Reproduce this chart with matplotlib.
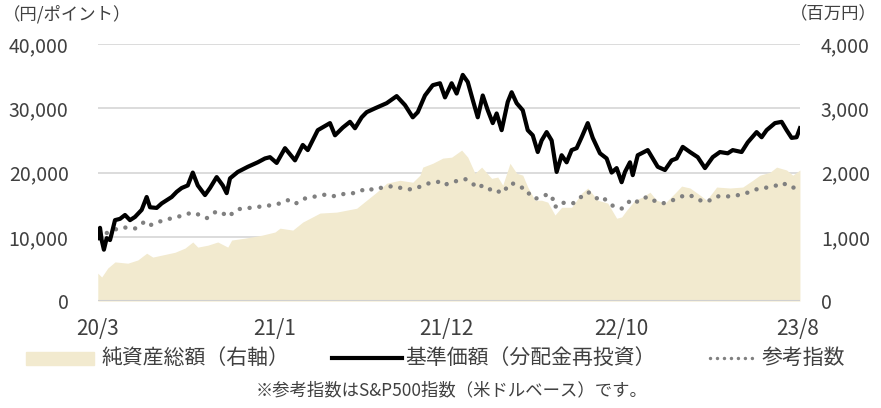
import matplotlib
matplotlib.use("Agg")
import matplotlib.pyplot as plt
import matplotlib.ticker as mticker
import pandas as pd
from matplotlib.lines import Line2D
from matplotlib.patches import Rectangle

plt.rcParams['font.family'] = ['Noto Sans CJK JP', 'DejaVu Sans']

START = pd.Timestamp('2020-03-16')

# 基準価額（分配金再投資）: days since start, value (円)
nav_days = [0, 4, 7, 11, 16, 22, 25, 31, 40, 49, 58, 67, 79, 88, 94, 106, 115, 124, 133, 142,
            151, 162, 171, 180, 193, 202, 214, 225, 232, 238, 252, 270, 288, 301, 310, 322, 337,
            355, 369, 378, 396, 418, 427, 441, 454, 463, 475, 484, 499, 520, 538, 553, 567, 576,
            589, 603, 616, 625, 637, 646, 657, 666, 675, 684, 693, 702, 711, 718, 727, 738, 745,
            754, 765, 774, 783, 792, 799, 808, 817, 826, 835, 844, 853, 862, 871, 882, 891, 904,
            916, 925, 934, 943, 949, 958, 963, 972, 990, 999, 1008, 1021, 1033, 1042, 1053, 1066,
            1080, 1093, 1107, 1120, 1134, 1143, 1159, 1170, 1186, 1195, 1204, 1219, 1231, 1240,
            1249, 1258, 1264]
nav = [9800, 11400, 9500, 8000, 9800, 9500, 10500, 12600, 12800, 13400, 12600, 13100, 14200,
       16200, 14600, 14500, 15200, 15700, 16200, 17000, 17600, 18000, 20000, 18000, 16500, 17600,
       19300, 18000, 16800, 19100, 20100, 20900, 21600, 22200, 22400, 21500, 23800, 21900, 24300,
       23500, 26600, 27700, 25800, 27000, 27900, 26900, 28600, 29400, 30000, 30800, 31900, 30500,
       28600, 29400, 32000, 33600, 33900, 31700, 33900, 32300, 35200, 34100, 31300, 28600, 32000,
       29700, 27700, 29200, 26600, 31000, 32500, 30800, 29700, 26600, 25800, 23200, 25000, 26300,
       25000, 20100, 22700, 21600, 23500, 23800, 25500, 27700, 25400, 23000, 22200, 20000, 20700,
       18500, 20100, 21600, 19600, 22700, 23500, 22200, 20900, 20400, 21900, 22200, 24000, 23200,
       22400, 20700, 22400, 23200, 23000, 23500, 23200, 24700, 26300, 25500, 26600, 27700, 27900,
       26600, 25400, 25500, 26900]

# 参考指数 (ポイント)
ref_days = [0, 27, 43, 67, 85, 94, 108, 133, 157, 169, 184, 196, 214, 225, 234, 252, 283, 310,
            328, 342, 355, 369, 387, 403, 414, 427, 448, 463, 486, 495, 508, 531, 556, 567, 583,
            598, 610, 621, 628, 637, 661, 673, 682, 693, 702, 711, 720, 729, 738, 745, 760, 769,
            778, 787, 796, 805, 817, 823, 832, 844, 855, 864, 871, 882, 891, 900, 909, 918, 931,
            943, 949, 958, 967, 976, 990, 999, 1017, 1035, 1051, 1066, 1078, 1093, 1102, 1114,
            1138, 1161, 1186, 1206, 1222, 1233, 1249, 1264]
ref = [10000, 11000, 11500, 11300, 12400, 11800, 12300, 12900, 13400, 13800, 13400, 12900, 14000,
       13700, 13100, 14300, 14600, 14900, 15200, 15700, 15100, 15900, 16200, 16500, 16600, 16300,
       16800, 16800, 17600, 17300, 17600, 17900, 17400, 17400, 17900, 18400, 18500, 18700, 18200,
       18500, 19000, 18500, 17600, 18000, 17700, 17000, 17100, 16800, 17900, 18400, 17700, 17600,
       16500, 15900, 16200, 16500, 16500, 14600, 15400, 15200, 15200, 15700, 16300, 17000, 16500,
       15900, 16200, 15400, 14600, 14400, 14800, 15600, 15200, 15900, 16200, 15700, 15200, 15700,
       16300, 16500, 15900, 15400, 15700, 16300, 16300, 16600, 17400, 17700, 18000, 18400, 17600,
       17900]

# 純資産総額 (百万円)
aum_days = [0, 7, 18, 31, 54, 72, 88, 99, 115, 139, 157, 171, 180, 198, 216, 234, 241, 265, 295,
            319, 328, 351, 369, 400, 430, 466, 484, 502, 520, 544, 567, 580, 585, 603, 621, 637,
            655, 666, 679, 691, 709, 720, 729, 742, 754, 765, 774, 787, 799, 810, 823, 835, 853,
            871, 882, 900, 918, 934, 943, 952, 967, 981, 994, 1006, 1021, 1039, 1051, 1066, 1084,
            1096, 1114, 1138, 1161, 1179, 1192, 1210, 1222, 1240, 1251, 1264]
aum = [435, 375, 515, 610, 590, 640, 745, 685, 715, 760, 825, 920, 840, 870, 920, 840, 950, 980,
       1025, 1075, 1135, 1105, 1230, 1370, 1385, 1445, 1570, 1695, 1835, 1880, 1850, 1960, 2085,
       2145, 2225, 2240, 2350, 2240, 1990, 2085, 1910, 1930, 1805, 2145, 1990, 1960, 1775, 1570,
       1570, 1540, 1340, 1460, 1460, 1680, 1760, 1570, 1525, 1290, 1310, 1415, 1570, 1620, 1695,
       1570, 1525, 1680, 1790, 1760, 1650, 1570, 1775, 1760, 1775, 1880, 1960, 2005, 2085, 2040,
       1960, 2040]

tick_dates = ['2020-03-16', '2021-01-29', '2021-12-03', '2022-10-14', '2023-08-28']
tick_labels = ['20/3', '21/1', '21/12', '22/10', '23/8']

to_dates = lambda d: START + pd.to_timedelta(d, unit='D')
nav_x = to_dates(nav_days)
ref_x = to_dates(ref_days)
aum_x = to_dates(aum_days)

fig = plt.figure(figsize=(8.81, 4.08), dpi=100)
ax = fig.add_axes([0.111, 0.262, 0.797, 0.630])
ax2 = ax.twinx()

text_color = '#404040'
beige = '#F2EACF'

ax2.fill_between(aum_x, 0, aum, color=beige, linewidth=0, zorder=1)
ax2.set_ylim(0, 4000)

ax.set_zorder(ax2.get_zorder() + 1)
ax.patch.set_visible(False)
for v in [10000, 20000, 30000, 40000]:
    ax2.axhline(v / 10, color='#D9D9D9', linewidth=1.3, zorder=0.5)
ax.plot(ref_x, ref, color='#808080', linestyle=(0, (0.01, 2.2)), linewidth=3.2,
        dash_capstyle='round', zorder=3)
ax.plot(nav_x, nav, color='black', linewidth=3.0, solid_joinstyle='round', zorder=4)

ax.set_ylim(0, 40000)
ax.set_xlim(pd.Timestamp(tick_dates[0]), to_dates(1264))
ax.set_xticks(pd.to_datetime(tick_dates))
ax.set_xticklabels(tick_labels)
ax.yaxis.set_major_locator(mticker.MultipleLocator(10000))
ax.yaxis.set_major_formatter(mticker.FuncFormatter(lambda v, p: f'{int(v):,}'))
ax2.yaxis.set_major_locator(mticker.MultipleLocator(1000))
ax2.yaxis.set_major_formatter(mticker.FuncFormatter(lambda v, p: f'{int(v):,}'))

for a in (ax, ax2):
    for s in a.spines.values():
        s.set_visible(False)
    a.tick_params(length=0, labelsize=14, colors=text_color)
ax.tick_params(axis='x', labelsize=15, pad=12)
ax.tick_params(axis='y', pad=21)
ax2.tick_params(axis='y', pad=15)
ax2.axhline(0, color='#D0D0D0', linewidth=1.5, zorder=2)

fig.text(0.003, 0.965, '（円/ポイント）', fontsize=12.5, color=text_color, va='center')
fig.text(0.995, 0.965, '（百万円）', fontsize=12.5, color=text_color, va='center', ha='right')

# legend
fig.add_artist(Rectangle((26 / 881, 1 - 365 / 408), 68 / 881, 13 / 408, color=beige,
                         transform=fig.transFigure))
fig.text(101 / 881, 1 - 358 / 408, '純資産総額（右軸）', fontsize=15, color=text_color, va='center')
fig.add_artist(Line2D([332 / 881, 402 / 881], [1 - 358 / 408] * 2, color='black', linewidth=3,
                      transform=fig.transFigure))
fig.text(405 / 881, 1 - 358 / 408, '基準価額（分配金再投資）', fontsize=15, color=text_color, va='center')
fig.add_artist(Line2D([710 / 881, 757 / 881], [1 - 358 / 408] * 2, color='#808080', linewidth=2.5,
                      linestyle=(0, (0.01, 2.0)), dash_capstyle='round', transform=fig.transFigure))
fig.text(762 / 881, 1 - 358 / 408, '参考指数', fontsize=15, color=text_color, va='center')
fig.text(452 / 881, 1 - 390 / 408, '※参考指数はS&P500指数（米ドルベース）です。', fontsize=12.5,
         color=text_color, va='center', ha='center')

fig.savefig('out.png', dpi=100)
